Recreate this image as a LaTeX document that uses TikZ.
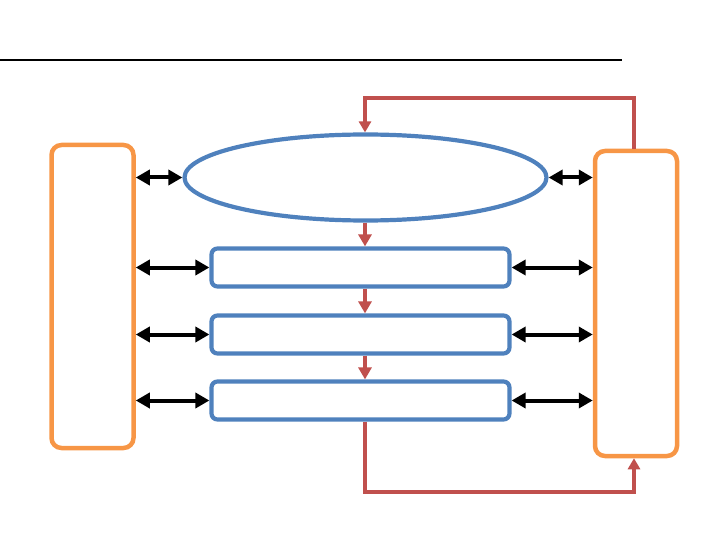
\documentclass[tikz,border=0pt]{standalone}
\usetikzlibrary{arrows.meta,shapes.geometric}
\definecolor{boxorange}{HTML}{F79646}
\definecolor{boxblue}{HTML}{4F81BD}
\definecolor{flowred}{HTML}{C0504D}
\begin{document}
\begin{tikzpicture}[x=1pt,y=-1pt,
  sidebox/.style={draw=boxorange,line width=4.5pt,rounded corners=10pt,minimum width=82pt,inner sep=0pt},
  stagebox/.style={draw=boxblue,line width=4.2pt,rounded corners=6pt,minimum width=298pt,minimum height=38pt,inner sep=0pt},
  topell/.style={draw=boxblue,ellipse,line width=4.2pt,minimum width=362pt,minimum height=86pt,inner sep=0pt},
  flow/.style={draw=flowred,line width=3.8pt,-{Triangle[length=12pt,width=13pt]}},
  loopline/.style={draw=flowred,line width=3.2pt,-{Triangle[length=11pt,width=12pt]}},
  link/.style={draw=black,line width=4pt,{Triangle[length=14pt,width=15pt]}-{Triangle[length=14pt,width=15pt]}}
]
\useasboundingbox (0,0) rectangle (720,540);
\coordinate (l0) at (0,60);
\coordinate (l1) at (622,60);
\draw[line width=1.6pt] (l0) -- (l1);

\node[sidebox,minimum height=303pt] (left) at (92.5,296.5) {};
\node[sidebox,minimum height=305pt] (right) at (636,303.5) {};
\node[topell] (ell) at (365.5,177.5) {};
\node[stagebox] (s1) at (360.5,267.5) {};
\node[stagebox] (s2) at (360.5,334.5) {};
\node[stagebox] (s3) at (360.5,400.5) {};

\coordinate (mx) at (365,0);
\draw[flow] (ell.south -| mx) -- (s1.north -| mx);
\draw[flow] (s1.south -| mx) -- (s2.north -| mx);
\draw[flow] (s2.south -| mx) -- (s3.north -| mx);

\coordinate (ttop) at (634,98);
\coordinate (ttopl) at (365,98);
\draw[loopline] (right.north -| ttop) -- (ttop) -- (ttopl) -- (ell.north -| ttopl);
\coordinate (bb) at (365,492);
\coordinate (bbr) at (634,492);
\draw[loopline] (s3.south -| bb) -- (bb) -- (bbr) -- (right.south -| bbr);

\draw[link] (left.east |- ell.west) -- (ell.west);
\draw[link] (ell.east) -- (right.west |- ell.east);
\foreach \s in {s1,s2,s3}{
  \draw[link] (left.east |- \s.west) -- (\s.west);
  \draw[link] (\s.east) -- (right.west |- \s.east);
}
\end{tikzpicture}
\end{document}
